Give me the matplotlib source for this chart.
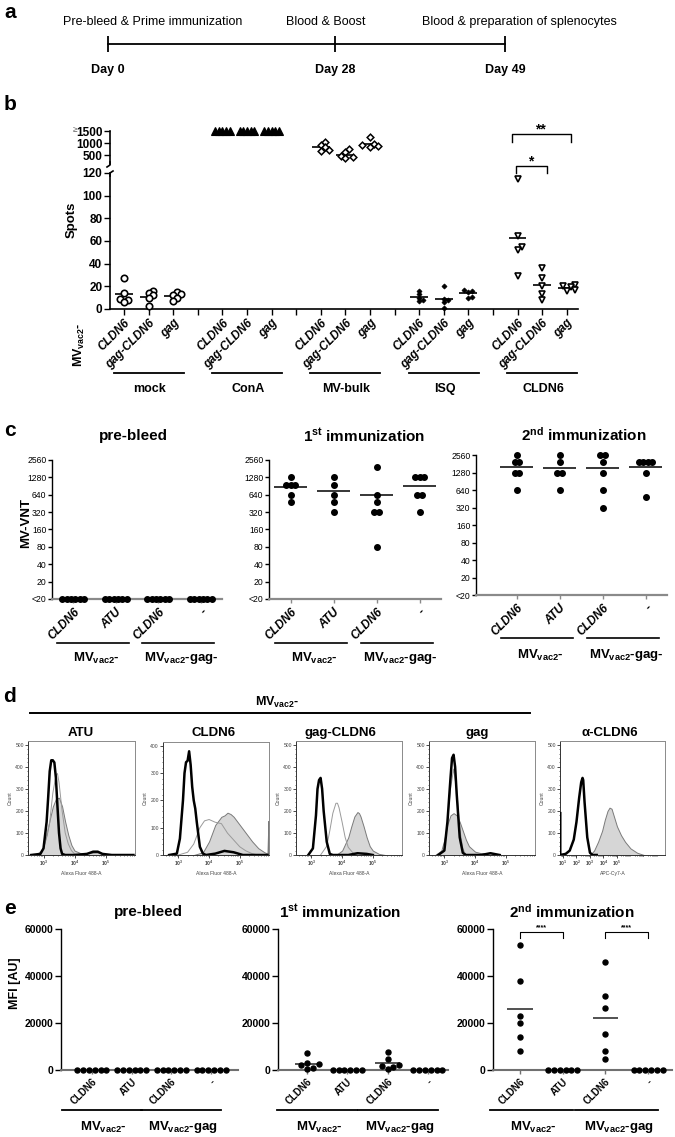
import numpy as np
import matplotlib
matplotlib.use('Agg')
import matplotlib.pyplot as plt
from matplotlib.lines import Line2D
from matplotlib import font_manager as fm
from matplotlib.ticker import FixedLocator, NullLocator, MultipleLocator

# ================= data =================
# a: timeline
timeline_days = [0, 28, 49]
timeline_events = ['Pre-bleed & Prime immunization', 'Blood & Boost',
                   'Blood & preparation of splenocytes']
timeline_day_labels = ['Day 0', 'Day 28', 'Day 49']

# b: IFN-gamma ELISpot (spots)
b_stimuli = ['mock', 'ConA', 'MV-bulk', 'ISQ', 'CLDN6']
b_viruses = ['CLDN6', 'gag-CLDN6', 'gag']
b_mock = [[27, 14, 9, 8, 6], [16, 14, 12, 10, 3], [15, 13, 12, 10, 7]]
b_cona = [[1500, 1500, 1500, 1500, 1500], [1500, 1500, 1500, 1500, 1500],
          [1500, 1500, 1500, 1500, 1500]]
b_mvbulk = [[1050, 900, 820, 720, 680], [750, 620, 450, 400, 380],
            [1250, 950, 900, 870, 850]]
b_isq = [[16, 13, 10, 8, 7], [20, 9, 8, 6, 1], [17, 16, 15, 11, 10]]
b_cldn6 = [[115, 64, 55, 52, 29], [36, 27, 20, 13, 8], [21, 20, 19, 17, 16]]
b_break = 120

# c: MV-VNT titres (10 stands for "<20")
c_titles = ['pre-bleed', '1$^{\\rm st}$ immunization', '2$^{\\rm nd}$ immunization']
c_categories = ['CLDN6', 'ATU', 'CLDN6', '-']
c_vectors = ['MV$_{\\rm vac2}$-', 'MV$_{\\rm vac2}$-gag-']
c_ticks = [10, 20, 40, 80, 160, 320, 640, 1280, 2560]
c_ticklabels = ['<20', '20', '40', '80', '160', '320', '640', '1280', '2560']
c_prebleed = [[10, 10, 10, 10, 10, 10], [10, 10, 10, 10, 10, 10],
              [10, 10, 10, 10, 10, 10], [10, 10, 10, 10, 10, 10]]
c_first = [[1280, 960, 960, 960, 640, 480], [1280, 960, 640, 480, 320],
           [1920, 640, 480, 320, 320, 80], [1280, 1280, 1280, 640, 640, 320]]
c_second = [[2560, 1920, 1920, 1280, 1280, 640], [2560, 1920, 1280, 1280, 640],
            [2560, 2560, 1920, 1280, 640, 320], [1920, 1920, 1920, 1920, 1280, 480]]

# d: flow cytometry histograms (x = log10 fluorescence, y = count)
d_titles = ['ATU', 'CLDN6', 'gag-CLDN6', 'gag', '\u03b1-CLDN6']
d_xlabels = ['Alexa Fluor 488-A'] * 4 + ['APC-Cy7-A']
atu_black_x = [2.6, 2.9, 3.0, 3.1, 3.15, 3.2, 3.25, 3.3, 3.35, 3.4, 3.45, 3.5, 3.55, 3.6, 3.7, 4.0, 4.4, 4.6, 4.75, 4.9, 5.2, 5.9]
atu_black_y = [0, 5, 30, 150, 260, 380, 430, 430, 420, 350, 220, 100, 30, 5, 0, 0, 5, 15, 15, 5, 0, 0]
atu_thin_x = [2.8, 3.0, 3.2, 3.3, 3.4, 3.45, 3.5, 3.6, 3.7, 3.8, 3.9, 4.0, 4.2]
atu_thin_y = [0, 30, 150, 280, 360, 370, 330, 200, 100, 50, 20, 5, 0]
atu_fill_x = [2.7, 2.9, 3.0, 3.1, 3.2, 3.3, 3.4, 3.5, 3.6, 3.7, 3.8, 3.9, 4.0, 4.2, 4.5, 4.8, 5.0]
atu_fill_y = [0, 10, 40, 90, 160, 220, 255, 260, 220, 150, 90, 45, 20, 8, 10, 12, 0]

cl_black_x = [2.7, 2.95, 3.05, 3.15, 3.2, 3.25, 3.3, 3.35, 3.4, 3.45, 3.5, 3.55, 3.6, 3.7, 3.8, 3.9, 4.2, 4.5, 4.8, 5.1, 5.9]
cl_black_y = [0, 5, 60, 200, 300, 340, 345, 380, 330, 250, 200, 170, 120, 30, 5, 0, 5, 15, 10, 0, 0]
cl_thin_x = [3.0, 3.3, 3.5, 3.7, 3.85, 4.0, 4.2, 4.4, 4.6, 4.8, 5.0, 5.2, 5.4, 5.6]
cl_thin_y = [0, 10, 40, 100, 125, 130, 120, 115, 80, 55, 30, 15, 5, 0]
cl_fill_x = [3.5, 3.8, 4.0, 4.2, 4.4, 4.5, 4.6, 4.7, 4.8, 5.0, 5.2, 5.4, 5.6, 5.8, 5.9, 5.93]
cl_fill_y = [0, 10, 50, 110, 140, 145, 155, 150, 140, 110, 80, 50, 25, 10, 5, 125]

gc_black_x = [2.9, 3.05, 3.15, 3.2, 3.25, 3.3, 3.35, 3.4, 3.5, 3.6, 3.7, 4.2, 4.5, 4.8, 5.0]
gc_black_y = [0, 30, 180, 300, 340, 350, 300, 200, 60, 5, 0, 0, 8, 5, 0]
gc_thin_x = [3.3, 3.5, 3.6, 3.7, 3.8, 3.85, 3.9, 4.0, 4.1, 4.2, 4.35, 4.5]
gc_thin_y = [0, 40, 110, 190, 235, 235, 215, 150, 80, 35, 10, 0]
gc_fill_x = [3.8, 4.0, 4.2, 4.3, 4.4, 4.5, 4.55, 4.6, 4.7, 4.8, 4.9, 5.0, 5.2, 5.4]
gc_fill_y = [0, 20, 80, 130, 175, 195, 190, 175, 130, 80, 40, 20, 5, 0]

gag_black_x = [2.8, 3.0, 3.1, 3.2, 3.25, 3.3, 3.35, 3.4, 3.5, 3.6, 3.7, 4.2, 4.5, 4.8]
gag_black_y = [0, 20, 150, 350, 440, 455, 400, 280, 80, 10, 0, 0, 8, 0]
gag_thin_x = [2.8, 3.0, 3.1, 3.2, 3.3, 3.4, 3.5, 3.6, 3.7]
gag_thin_y = [0, 30, 150, 300, 390, 300, 120, 30, 0]
gag_fill_x = [2.7, 2.9, 3.0, 3.1, 3.2, 3.3, 3.4, 3.5, 3.6, 3.7, 3.8, 4.0, 4.2, 4.5, 4.8]
gag_fill_y = [0, 20, 70, 140, 180, 190, 180, 150, 110, 70, 40, 15, 8, 10, 0]

ab_black_x = [0.8, 0.8, 1.2, 1.5, 1.8, 2.0, 2.2, 2.35, 2.45, 2.5, 2.6, 2.8, 3.0, 3.2, 3.5]
ab_black_y = [190, 0, 5, 20, 70, 150, 260, 330, 350, 340, 240, 80, 10, 0, 0]
ab_fill_x = [3.0, 3.3, 3.6, 3.9, 4.1, 4.3, 4.45, 4.6, 4.8, 5.0, 5.3, 5.6, 6.0, 6.5, 7.0]
ab_fill_y = [0, 20, 60, 110, 160, 200, 215, 210, 170, 130, 90, 60, 30, 10, 0]

# e: MFI
e_titles = ['pre-bleed', '1$^{\\rm st}$ immunization', '2$^{\\rm nd}$ immunization']
e_categories = ['CLDN6', 'ATU', 'CLDN6', '-']
e_vectors = ['MV$_{\\rm vac2}$-', 'MV$_{\\rm vac2}$-gag']
e_prebleed = [[0, 0, 0, 0, 0, 0], [0, 0, 0, 0, 0, 0], [0, 0, 0, 0, 0, 0], [0, 0, 0, 0, 0, 0]]
e_first = [[7100, 3100, 2600, 2100, 700, 600], [0, 0, 0, 0, 0, 0],
           [7600, 4600, 2200, 1900, 1100, 300], [0, 0, 0, 0, 0, 0]]
e_second = [[53200, 37700, 22800, 20200, 14200, 8250], [0, 0, 0, 0, 0, 0],
            [46100, 31600, 26200, 15400, 8250, 4700], [0, 0, 0, 0, 0, 0]]

# ================= style =================
plt.rcParams['font.family'] = ['Liberation Sans', 'DejaVu Sans']
plt.rcParams['font.weight'] = 'bold'
plt.rcParams['mathtext.fontset'] = 'custom'
plt.rcParams['mathtext.rm'] = 'Liberation Sans:bold'
plt.rcParams['mathtext.it'] = 'Liberation Sans:italic:bold'
plt.rcParams['mathtext.bf'] = 'Liberation Sans:bold'
plt.rcParams['mathtext.sf'] = 'Liberation Sans:bold'
plt.rcParams['axes.linewidth'] = 1.0

names = {f.name for f in fm.fontManager.ttflist}
NARROW = 'Liberation Sans Narrow' if 'Liberation Sans Narrow' in names else 'Liberation Sans'

W, H = 675, 1137
fig = plt.figure(figsize=(W / 100, H / 100), dpi=100)


def ax_px(x0, y0, x1, y1):
    return fig.add_axes([x0 / W, 1 - y1 / H, (x1 - x0) / W, (y1 - y0) / H])


def ftext(x, y, s, **kw):
    kw.setdefault('ha', 'center')
    kw.setdefault('va', 'center')
    return fig.text(x / W, 1 - y / H, s, **kw)


def fline(xs, ys, **kw):
    kw.setdefault('color', 'k')
    fig.add_artist(Line2D([x / W for x in xs], [1 - y / H for y in ys],
                          transform=fig.transFigure, **kw))


def swarm(ax, xc, vals, step_px, diam_px):
    """x-offsets (data units): rows of equal values are centred, others swarm."""
    tr = ax.transData
    vals = list(vals)
    ppx = tr.transform((xc + 1, vals[0]))[0] - tr.transform((xc, vals[0]))[0]
    step = step_px / ppx
    n = len(vals)
    if len(set(vals)) < n:
        offs = [0.0] * n
        for u in set(vals):
            idx = [i for i, v in enumerate(vals) if v == u]
            m = len(idx)
            for j, i in enumerate(idx):
                offs[i] = (j - (m - 1) / 2) * step
        return offs
    ys = [tr.transform((xc, v))[1] for v in vals]
    placed, offs = [], [0.0] * n
    cands = [0]
    for k in range(1, 10):
        cands += [k, -k]
    for i in np.argsort(ys):
        for c in cands:
            xo = c * step
            if all(((xo - px) * ppx) ** 2 + (ys[i] - py) ** 2 >= diam_px ** 2 for px, py in placed):
                break
        placed.append((xo, ys[i]))
        offs[i] = xo
    return offs


def style_axes(ax):
    ax.spines[['top', 'right']].set_visible(False)
    ax.tick_params(axis='both', direction='out', width=1.0)


# ================= panel a =================
ftext(10, 12, 'a', fontsize=15)
ax_a = ax_px(108, 30, 505, 58)
ax_a.set_xlim(timeline_days[0], timeline_days[-1])
ax_a.set_ylim(-1, 1)
ax_a.axis('off')
ax_a.plot([timeline_days[0], timeline_days[-1]], [0, 0], color='k', lw=1.3, clip_on=False)
ax_a.vlines(timeline_days, -0.55, 0.55, color='k', lw=1.3, clip_on=False)
event_x_px = [153, 326, 519]
for d, ev, ex in zip(timeline_days, timeline_events, event_x_px):
    ftext(ex, 22, ev, fontsize=9, weight='normal')
for d, lab in zip(timeline_days, timeline_day_labels):
    ax_a.annotate(lab, (d, 0), xytext=(0, -19), textcoords='offset points',
                  ha='center', va='center', fontsize=9, annotation_clip=False)

# ================= panel b =================
ftext(10, 104, 'b', fontsize=15)
ax_lo = ax_px(110, 173, 578, 309)
ax_hi = ax_px(110, 131, 578, 164)
for ax in (ax_lo, ax_hi):
    ax.set_xlim(0.43, 19.46)
    style_axes(ax)
    ax.spines['left'].set_linewidth(1.2)
ax_hi.spines['bottom'].set_visible(False)
ax_hi.set_xticks([])
ax_lo.spines['bottom'].set_linewidth(1.2)
ax_lo.set_ylim(0, b_break)
ax_lo.set_yticks(range(0, b_break + 1, 20))
ax_hi.set_ylim(125, 1500)
ax_hi.set_yticks([500, 1000, 1500])
ax_hi.set_yticklabels(['500', '1000', '1500'])
for ax in (ax_lo, ax_hi):
    ax.tick_params(axis='y', labelsize=8.5, length=4, pad=1.5)
ftext(77, 131, '\u2265', fontsize=6, weight='normal', color='#555', ha='right')
# axis-break hooks
fline([110, 110, 107], [162, 165, 167], lw=1.2)
fline([113, 110, 110], [171, 173, 176], lw=1.2)

b_data = [b_mock, b_cona, b_mvbulk, b_isq, b_cldn6]
b_markers = [dict(marker='o', ms=4.6, mfc='white', mec='k', mew=1.2),
             dict(marker='^', ms=5.2, mfc='k', mec='k', mew=0.8),
             dict(marker='D', ms=3.4, mfc='white', mec='k', mew=1.1),
             dict(marker='D', ms=2.6, mfc='k', mec='k', mew=0.5),
             dict(marker='v', ms=5.0, mfc='white', mec='k', mew=1.2)]
xt, xl = [], []
for g, (stim, groups) in enumerate(zip(b_stimuli, b_data)):
    for v, (vir, vals) in enumerate(zip(b_viruses, groups)):
        xc = 1 + 4 * g + v
        xt.append(xc)
        xl.append(vir)
        ax = ax_hi if max(vals) > b_break else ax_lo
        if max(vals) >= 1500:
            offs = swarm(ax, xc, vals, 3.6, 4)
        else:
            offs = swarm(ax, xc, vals, 4.0, 4.2 if g != 3 else 3.0)
        ax.plot([xc + o for o in offs], vals, ls='none', clip_on=False, zorder=3,
                **b_markers[g])
        ax.hlines(np.mean(vals), xc - 0.36, xc + 0.36, color='k', lw=1.2, zorder=2)
    if g < len(b_stimuli) - 1:
        xt.append(4 + 4 * g)
        xl.append('')
ax_lo.set_xticks(xt)
ax_lo.set_xticklabels(xl, rotation=45, ha='right', va='top', rotation_mode='anchor',
                      fontsize=8.5, fontstyle='italic')
ax_lo.tick_params(axis='x', length=4, pad=2)

# group underlines
for g, stim in enumerate(b_stimuli):
    x0 = ax_lo.transData.transform((1 + 4 * g, 0))[0]
    x2 = ax_lo.transData.transform((3 + 4 * g, 0))[0]
    cx = (x0 + x2) / 2
    fline([cx - 35, cx + 35], [373, 373], lw=1.3)
    ftext(cx + 1, 389, stim, fontsize=9)
ftext(79, 345, 'MV$_{\\rm vac2}$-', rotation=90, fontsize=9)
ftext(72, 220, 'Spots', rotation=90, fontsize=9.5)

# significance brackets
fline([512, 512, 571, 571], [142, 134, 134, 142], lw=1.0)
ftext(540, 129, '**', fontsize=10)
fline([516, 516, 547, 547], [173, 166, 166, 173], lw=1.0)
ftext(531, 161, '*', fontsize=10)

# ================= panel c =================
ftext(10, 431, 'c', fontsize=15)
c_boxes = [(52, 460, 222, 599), (269, 460, 441, 599), (476, 455, 667, 595)]
c_xlims = [(0.5, 4.5), (0.5, 4.5), (0.05, 4.5)]
c_title_x = [133, 364, 584]
c_data = [c_prebleed, c_first, c_second]
c_line_y = [643, 643, 638]
c_lab_y = [658, 658, 655]
for k in range(3):
    ax = ax_px(*c_boxes[k])
    style_axes(ax)
    ax.set_yscale('log', base=2)
    ax.set_ylim(c_ticks[0], c_ticks[-1])
    ax.set_xlim(*c_xlims[k])
    ax.yaxis.set_major_locator(FixedLocator(c_ticks))
    ax.yaxis.set_minor_locator(NullLocator())
    ax.set_yticklabels(c_ticklabels, family=NARROW, fontsize=6.2, weight='normal')
    ax.spines['bottom'].set_color('#8a8a8a')
    ax.spines['bottom'].set_linewidth(1.6)
    ax.tick_params(axis='y', length=3, pad=1)
    ax.tick_params(axis='x', length=3, color='#8a8a8a', pad=2)
    ax.set_xticks(range(1, 5))
    ax.set_xticklabels(c_categories, rotation=45, ha='right', va='top',
                       rotation_mode='anchor', fontsize=8.5, fontstyle='italic')
    for i, vals in enumerate(c_data[k]):
        xc = i + 1
        offs = swarm(ax, xc, vals, 4.4, 5.0)
        ax.plot([xc + o for o in offs], vals, 'o', color='k', ms=4.0, clip_on=False, zorder=3)
        ax.hlines(np.mean(vals), xc - 0.38, xc + 0.38, color='k', lw=1.1, zorder=2)
    ftext(c_title_x[k], 436 if k < 2 else 435, c_titles[k], fontsize=11)
    # vector group lines
    p = [ax.transData.transform((x, c_ticks[0]))[0] for x in (1, 2, 3, 4)]
    for j, lab in enumerate(c_vectors):
        a, b = p[2 * j], p[2 * j + 1]
        fline([a - 16, b + 13], [c_line_y[k], c_line_y[k]], lw=1.2)
        ftext((a + b) / 2 + 2, c_lab_y[k], lab, fontsize=9.5)
ftext(26, 523, 'MV-VNT', rotation=90, fontsize=9.5)

# ================= panel d =================
ftext(10, 697, 'd', fontsize=15)
ftext(277, 702, 'MV$_{\\rm vac2}$-', fontsize=9)
fline([30, 530], [713, 713], lw=1.4)
d_boxes = [(28, 741, 135, 855), (163, 742, 269, 855), (296, 741, 402, 855),
           (429, 741, 535, 855), (560, 741, 665, 855)]
d_title_x = [81, 214, 340, 477, 610]
d_curves = [
    (atu_black_x, atu_black_y, atu_thin_x, atu_thin_y, atu_fill_x, atu_fill_y),
    (cl_black_x, cl_black_y, cl_thin_x, cl_thin_y, cl_fill_x, cl_fill_y),
    (gc_black_x, gc_black_y, gc_thin_x, gc_thin_y, gc_fill_x, gc_fill_y),
    (gag_black_x, gag_black_y, gag_thin_x, gag_thin_y, gag_fill_x, gag_fill_y),
    (ab_black_x, ab_black_y, None, None, ab_fill_x, ab_fill_y),
]
for k in range(5):
    ax = ax_px(*d_boxes[k])
    bx, by, tx, ty, fx, fy = d_curves[k]
    ax.fill_between(fx, 0, fy, facecolor='#d6d6d6', edgecolor='#7a7a7a', lw=0.7, zorder=1)
    if tx is not None:
        ax.plot(tx, ty, color='#9a9a9a', lw=0.7, zorder=2)
    ax.plot(bx, by, color='k', lw=1.8, zorder=3)
    if k == 4:
        ax.set_xlim(0.78, 8.56)
        majors = [1, 2, 3, 4, 5]
        minors = [d + np.log10(m) for d in range(0, 8) for m in range(2, 10)]
    else:
        ax.set_xlim(2.5, 5.95)
        majors = [3, 4, 5]
        minors = [d + np.log10(m) for d in range(2, 6) for m in range(2, 10)]
    ax.set_xticks(majors)
    ax.set_xticklabels(['$10^{%d}$' % m for m in majors], fontsize=3.6, color='#444')
    ax.xaxis.set_minor_locator(FixedLocator(minors))
    top = 400 if k == 1 else 500
    ax.set_ylim(0, top * 1.035)
    ax.set_yticks(range(0, top + 1, 100))
    ax.set_yticklabels([str(v) for v in range(0, top + 1, 100)], fontsize=3.6,
                       color='#444', weight='normal')
    ax.yaxis.set_minor_locator(MultipleLocator(20))
    ax.tick_params(axis='both', which='major', length=2, width=0.5, pad=1)
    ax.tick_params(axis='both', which='minor', length=1, width=0.4)
    for s in ax.spines.values():
        s.set_color('#8a8a8a')
        s.set_linewidth(0.7)
    ax.spines['left'].set_color('#333')
    ax.spines['bottom'].set_color('#333')
    ax.set_ylabel('Count', fontsize=3.6, weight='normal', color='#444', labelpad=2)
    ax.set_xlabel(d_xlabels[k], fontsize=3.6, weight='normal', color='#444', labelpad=1.5)
    ftext(d_title_x[k], 733, d_titles[k], fontsize=9.5)

# ================= panel e =================
ftext(10, 908, 'e', fontsize=15)
e_boxes = [(61, 929, 238, 1070), (278, 929, 448, 1070), (493, 929, 672, 1070)]
e_xlims = [(0.22, 4.68), (0.28, 4.5), (0.37, 4.56)]
e_title_x = [148, 340, 572]
e_data = [e_prebleed, e_first, e_second]
e_axes = []
for k in range(3):
    ax = ax_px(*e_boxes[k])
    e_axes.append(ax)
    style_axes(ax)
    ax.set_ylim(0, 60000)
    ax.set_xlim(*e_xlims[k])
    ax.set_yticks([0, 20000, 40000, 60000])
    ax.tick_params(axis='y', labelsize=7.5, length=4, pad=1.5)
    ax.spines['bottom'].set_color('#707070')
    ax.spines['bottom'].set_linewidth(1.5)
    ax.tick_params(axis='x', length=3, color='#707070', pad=2)
    ax.set_xticks(range(1, 5))
    ax.set_xticklabels(e_categories, rotation=45, ha='right', va='top',
                       rotation_mode='anchor', fontsize=7)
    for i, vals in enumerate(e_data[k]):
        xc = i + 1
        offs = swarm(ax, xc, vals, 5.8, 4.8)
        ax.plot([xc + o for o in offs], vals, 'o', color='k', ms=3.6, clip_on=False, zorder=3)
        if max(vals) > 0:
            ax.hlines(np.mean(vals), xc - 0.3, xc + 0.3, color='#333', lw=1.2, zorder=2)
    ftext(e_title_x[k], 912, e_titles[k], fontsize=11)
    p = [ax.transData.transform((x, 0))[0] for x in (1, 2, 3, 4)]
    for j, lab in enumerate(e_vectors):
        a, b = p[2 * j], p[2 * j + 1]
        fline([a - 30, b + 10], [1110, 1110], lw=1.3)
        ftext((a + b) / 2 - 8, 1127, lab, fontsize=9.5)
ftext(15, 983, 'MFI [AU]', rotation=90, fontsize=9)

# significance in e (2nd immunization)
ax = e_axes[2]
for i0 in (1, 3):
    ax.plot([i0, i0, i0 + 1, i0 + 1], [56200, 58700, 58700, 56200], color='k', lw=0.8,
            clip_on=False)
    ax.text(i0 + 0.5, 59000, '****', ha='center', va='bottom', fontsize=5)

fig.savefig('out.png', dpi=100)
